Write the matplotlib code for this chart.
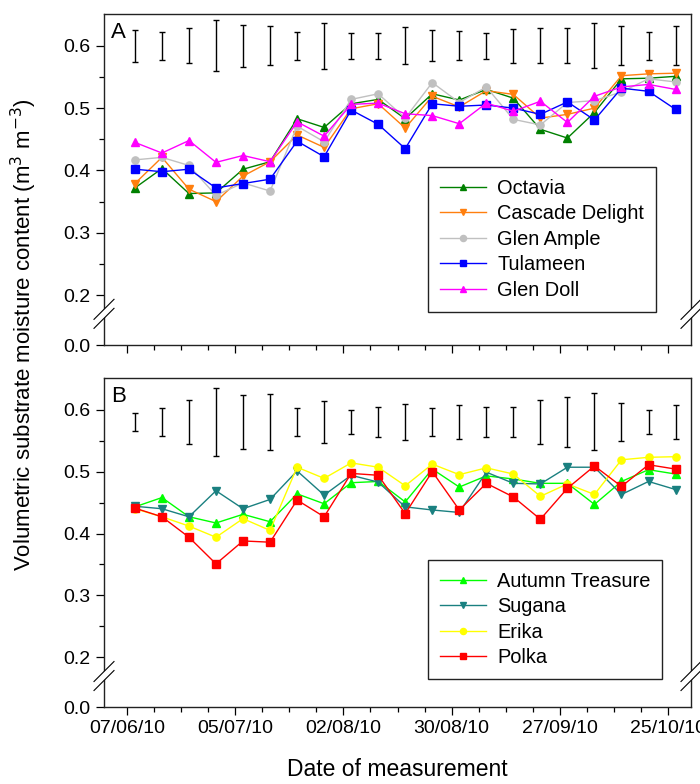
import datetime as dt
import matplotlib
matplotlib.use('Agg')
import matplotlib.pyplot as plt
import matplotlib.dates as mdates
from matplotlib.patches import Polygon
from matplotlib.lines import Line2D

plt.rcParams['font.family'] = ['Liberation Sans', 'DejaVu Sans']

# measurement dates (weekly)
dates_str = ['09/06/10', '16/06/10', '23/06/10', '30/06/10', '07/07/10', '14/07/10',
             '21/07/10', '28/07/10', '04/08/10', '11/08/10', '18/08/10', '25/08/10',
             '01/09/10', '08/09/10', '15/09/10', '22/09/10', '29/09/10', '06/10/10',
             '13/10/10', '20/10/10', '27/10/10']
tick_str = ['07/06/10', '05/07/10', '02/08/10', '30/08/10', '27/09/10', '25/10/10']

# Panel A
octavia = [0.372, 0.403, 0.363, 0.364, 0.402, 0.414, 0.483, 0.469, 0.507, 0.514,
           0.483, 0.523, 0.513, 0.530, 0.516, 0.466, 0.452, 0.493, 0.547, 0.548, 0.551]
cascade = [0.379, 0.421, 0.370, 0.350, 0.391, 0.414, 0.457, 0.437, 0.499, 0.507,
           0.468, 0.519, 0.502, 0.528, 0.522, 0.484, 0.490, 0.500, 0.552, 0.555, 0.556]
glen_ample = [0.417, 0.421, 0.408, 0.360, 0.380, 0.367, 0.471, 0.446, 0.514, 0.523,
              0.484, 0.541, 0.509, 0.534, 0.482, 0.473, 0.509, 0.512, 0.526, 0.547, 0.542]
tulameen = [0.402, 0.398, 0.402, 0.372, 0.379, 0.386, 0.447, 0.422, 0.497, 0.474,
            0.435, 0.507, 0.503, 0.505, 0.500, 0.490, 0.510, 0.481, 0.532, 0.527, 0.498]
glen_doll = [0.445, 0.428, 0.448, 0.413, 0.424, 0.414, 0.478, 0.455, 0.506, 0.508,
             0.491, 0.488, 0.475, 0.508, 0.495, 0.511, 0.477, 0.519, 0.534, 0.538, 0.530]
lsd_a = [0.026, 0.022, 0.028, 0.041, 0.034, 0.031, 0.022, 0.037, 0.021, 0.021,
         0.030, 0.025, 0.023, 0.021, 0.027, 0.028, 0.028, 0.036, 0.031, 0.022, 0.031]

# Panel B
autumn_treasure = [0.443, 0.458, 0.427, 0.417, 0.431, 0.419, 0.464, 0.448, 0.482, 0.484,
                   0.451, 0.504, 0.475, 0.493, 0.488, 0.481, 0.481, 0.447, 0.484, 0.503, 0.496]
sugana = [0.444, 0.440, 0.427, 0.469, 0.440, 0.455, 0.501, 0.462, 0.494, 0.483,
          0.443, 0.438, 0.434, 0.499, 0.481, 0.480, 0.507, 0.507, 0.463, 0.484, 0.471]
erika = [0.440, 0.427, 0.412, 0.394, 0.424, 0.405, 0.507, 0.489, 0.514, 0.507,
         0.477, 0.512, 0.495, 0.506, 0.496, 0.460, 0.480, 0.463, 0.519, 0.523, 0.524]
polka = [0.441, 0.427, 0.394, 0.351, 0.388, 0.386, 0.454, 0.427, 0.497, 0.494,
         0.432, 0.500, 0.438, 0.481, 0.459, 0.423, 0.473, 0.509, 0.476, 0.511, 0.504]
lsd_b = [0.015, 0.022, 0.036, 0.055, 0.043, 0.045, 0.023, 0.034, 0.020, 0.025,
         0.029, 0.022, 0.028, 0.025, 0.025, 0.036, 0.040, 0.046, 0.031, 0.020, 0.027]

dates = [dt.datetime.strptime(s, '%d/%m/%y') for s in dates_str]
ticks = [dt.datetime.strptime(s, '%d/%m/%y') for s in tick_str]

W, H = 700, 784
fig = plt.figure(figsize=(W / 100, H / 100), dpi=100)
ax_a = fig.add_axes([104 / W, 1 - 345 / H, 587 / W, 331 / H])
ax_b = fig.add_axes([104 / W, 1 - 707 / H, 587 / W, 329 / H])

YLO, YHI = 0.12, 0.651
BREAK_Y = 0.17


def draw_break(ax, xfrac):
    pos = ax.get_position()
    ax_w = pos.width * W
    ax_h = pos.height * H
    yc = (BREAK_Y - YLO) / (YHI - YLO)
    d = 10.0   # half extent in px
    gap = 4.5  # vertical half gap in px
    dx = d / ax_w
    dy = d / ax_h
    g = gap / ax_h
    band = Polygon([(xfrac - dx, yc - dy - g), (xfrac + dx, yc + dy - g),
                    (xfrac + dx, yc + dy + g), (xfrac - dx, yc - dy + g)],
                   closed=True, facecolor='white', edgecolor='none',
                   transform=ax.transAxes, clip_on=False, zorder=10)
    ax.add_patch(band)
    for s in (-g, g):
        ax.add_line(Line2D([xfrac - dx, xfrac + dx], [yc - dy + s, yc + dy + s],
                           color='black', lw=0.8, transform=ax.transAxes,
                           clip_on=False, zorder=11))


def style(ax, letter, show_labels):
    ax.set_xlim(dt.datetime(2010, 6, 1), dt.datetime(2010, 10, 31))
    ax.set_ylim(YLO, YHI)
    ax.set_xticks(ticks)
    ax.xaxis.set_minor_locator(mdates.WeekdayLocator(byweekday=mdates.MO))
    ax.xaxis.set_major_formatter(mdates.DateFormatter('%d/%m/%y'))
    ax.set_yticks([0.12, 0.2, 0.3, 0.4, 0.5, 0.6])
    ax.set_yticklabels(['0.0', '0.2', '0.3', '0.4', '0.5', '0.6'])
    ax.set_yticks([0.25, 0.35, 0.45, 0.55], minor=True)
    ax.tick_params(which='major', direction='out', length=5.5, width=0.9,
                   labelsize=14, pad=4, top=False, right=False)
    ax.tick_params(which='minor', direction='out', length=3.5, width=0.9,
                   top=False, right=False)
    if not show_labels:
        ax.tick_params(axis='x', labelbottom=False)
    for sp in ax.spines.values():
        sp.set_linewidth(1.0)
        sp.set_color('#222222')
    ax.text(0.012, 0.975, letter, transform=ax.transAxes, fontsize=16,
            va='top', ha='left')
    draw_break(ax, 0.0)
    draw_break(ax, 1.0)


mk = dict(lw=1.0, markersize=5.2)

ax_a.errorbar(dates, [0.6] * len(dates), yerr=lsd_a, fmt='none', ecolor='black',
              elinewidth=1.0, capsize=2.2, capthick=1.0)
ax_a.plot(dates, octavia, color='#008000', marker='^', label='Octavia', **mk)
ax_a.plot(dates, cascade, color='#FF7F0E', marker='v', label='Cascade Delight', **mk)
ax_a.plot(dates, glen_ample, color='#C0C0C0', marker='o', label='Glen Ample', **mk)
ax_a.plot(dates, tulameen, color='#0000FF', marker='s', label='Tulameen', **mk)
ax_a.plot(dates, glen_doll, color='#FF00FF', marker='^', label='Glen Doll', **mk)

ax_b.errorbar(dates, [0.58] * len(dates), yerr=lsd_b, fmt='none', ecolor='black',
              elinewidth=1.0, capsize=2.2, capthick=1.0)
ax_b.plot(dates, autumn_treasure, color='#00FF00', marker='^', label='Autumn Treasure', **mk)
ax_b.plot(dates, sugana, color='#1A8080', marker='v', label='Sugana', **mk)
ax_b.plot(dates, erika, color='#FFFF00', marker='o', label='Erika', **mk)
ax_b.plot(dates, polka, color='#FF0000', marker='s', label='Polka', **mk)

leg_kw = dict(loc='upper left', borderaxespad=0, fontsize=14.4, frameon=True,
              fancybox=False, edgecolor='#222222', handlelength=2.33,
              handletextpad=0.56, labelspacing=0.33, borderpad=0.58, markerscale=0.85)
la = ax_a.legend(bbox_to_anchor=(0.552, 0.538), **leg_kw)
lb = ax_b.legend(bbox_to_anchor=(0.552, 0.447), **leg_kw)
for lg in (la, lb):
    lg.get_frame().set_linewidth(1.0)
    lg.get_frame().set_alpha(1)

style(ax_a, 'A', False)
style(ax_b, 'B', True)

ax_b.set_xlabel('Date of measurement', fontsize=16.5, labelpad=15)
fig.text(0.034, 1 - 335 / H, 'Volumetric substrate moisture content (m$^3$ m$^{-3}$)',
         rotation=90, ha='center', va='center', fontsize=16)

fig.savefig('out.png', dpi=100)
